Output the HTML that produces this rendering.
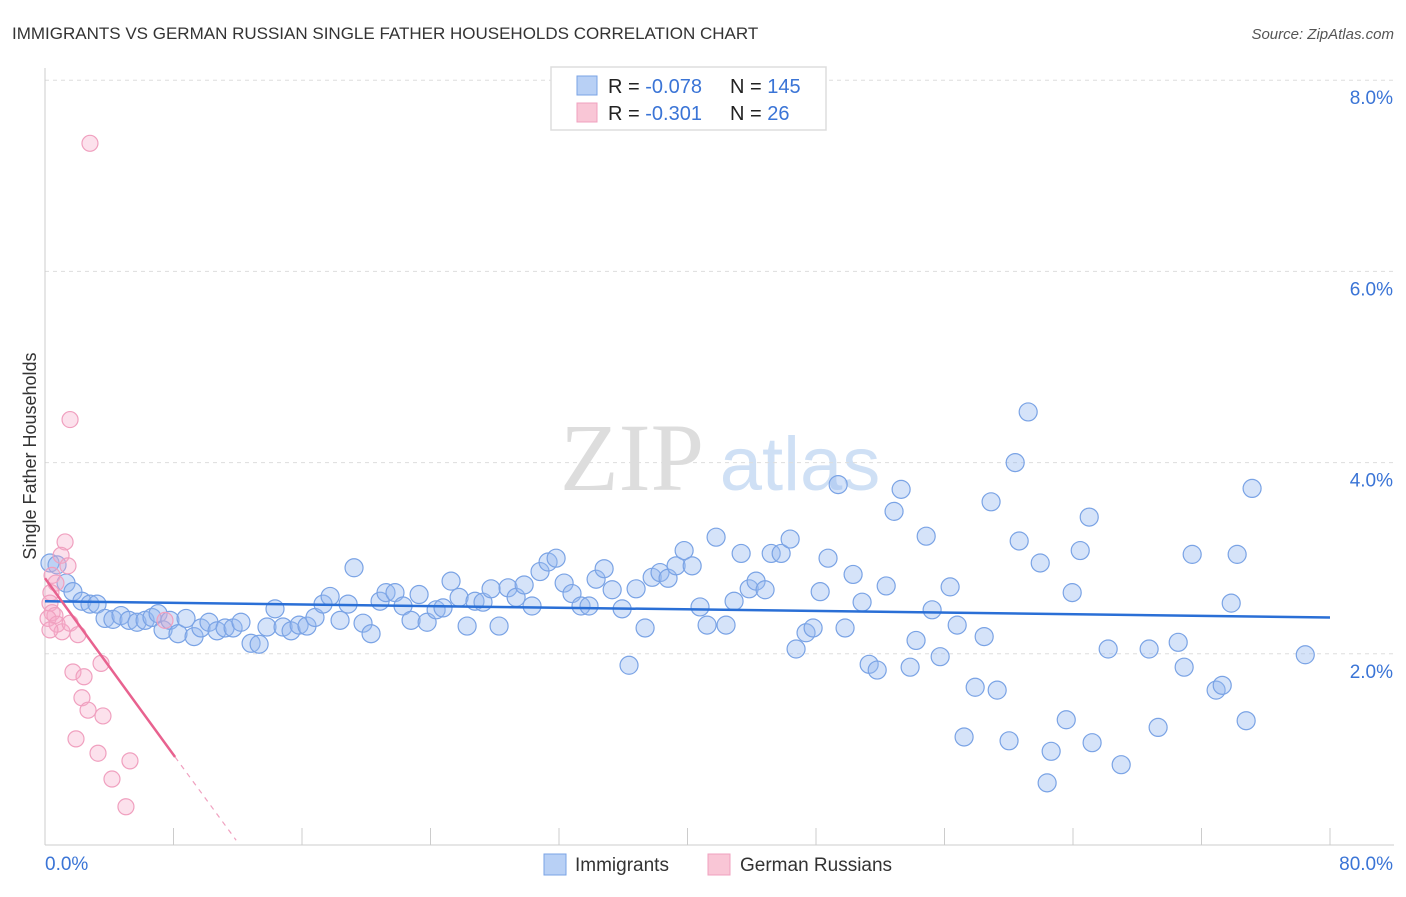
<!DOCTYPE html>
<html><head><meta charset="utf-8">
<style>
body{margin:0;background:#fff;font-family:"Liberation Sans",sans-serif;}
svg text{font-family:"Liberation Sans",sans-serif;}
</style></head>
<body>
<svg id="chart" width="1406" height="892" xmlns="http://www.w3.org/2000/svg">
<text x="12" y="39" font-size="17" fill="#333">IMMIGRANTS VS GERMAN RUSSIAN SINGLE FATHER HOUSEHOLDS CORRELATION CHART</text>
<text x="1394" y="39" font-size="15" fill="#555" font-style="italic" text-anchor="end">Source: ZipAtlas.com</text>
<text x="36" y="456" font-size="18" fill="#333" text-anchor="middle" transform="rotate(-90 36 456)">Single Father Households</text>
<g>
<text x="632" y="490" font-size="96" fill="#ddd" font-family="Liberation Serif" text-anchor="middle" style="font-family:'Liberation Serif',serif">ZIP</text>
<text x="800" y="490" font-size="76" fill="#cfe0f5" text-anchor="middle">atlas</text>
</g>
<g id="grid"></g>
<g id="axes"></g>
<g id="pts"></g>
<g id="trend"></g>
<g>
<rect x="551" y="67" width="275" height="63" fill="#fff" stroke="#ddd" stroke-width="1.5"/>
<rect x="577" y="76" width="20" height="19" fill="#b8d0f5" stroke="#7aa3e5"/>
<rect x="577" y="103" width="20" height="19" fill="#f9c6d6" stroke="#f0a0bf"/>
<text x="608" y="93" font-size="20" fill="#222">R = <tspan fill="#3a74d6">-0.078</tspan></text>
<text x="730" y="93" font-size="20" fill="#222">N = <tspan fill="#3a74d6">145</tspan></text>
<text x="608" y="120" font-size="20" fill="#222">R = <tspan fill="#3a74d6"> -0.301</tspan></text>
<text x="730" y="120" font-size="20" fill="#222">N = <tspan fill="#3a74d6">  26</tspan></text>
</g>
<g>
<rect x="544" y="854" width="22" height="21" fill="#b8d0f5" stroke="#7aa3e5"/>
<text x="575" y="871" font-size="19" fill="#333">Immigrants</text>
<rect x="708" y="854" width="22" height="21" fill="#f9c6d6" stroke="#f0a0bf"/>
<text x="740" y="871" font-size="19" fill="#333">German Russians</text>
</g>
</svg>
<script>
const yTicks=[2,4,6,8];
const yTickLabels=["2.0%","4.0%","6.0%","8.0%"];
const xTickLabels=["0.0%","80.0%"];
const blueX=[0.31,0.75,1.31,1.74,2.30,2.80,3.24,3.74,4.23,4.73,5.23,5.73,6.23,6.66,7.04,7.35,7.78,8.28,8.78,9.28,9.71,10.21,10.71,11.21,11.71,12.20,12.83,13.33,13.82,14.32,14.82,15.32,15.82,16.31,16.81,17.31,17.75,18.37,18.87,19.24,19.80,20.30,20.86,21.23,21.79,22.29,22.79,23.29,23.79,24.35,24.78,25.28,25.78,26.28,26.77,27.27,27.77,28.27,28.83,29.33,29.83,30.32,30.82,31.32,31.82,32.32,32.81,33.37,33.87,34.31,34.81,35.31,35.93,36.36,36.80,37.36,37.80,38.29,38.79,39.29,39.79,40.29,40.78,41.22,41.78,42.40,42.90,43.34,43.84,44.27,44.83,45.21,45.83,46.39,46.76,47.38,47.82,48.26,48.75,49.38,49.81,50.31,50.87,51.31,51.81,52.37,52.86,53.30,53.86,54.23,54.86,55.23,55.73,56.35,56.79,57.22,57.91,58.47,58.90,59.28,60.02,60.40,60.65,61.21,61.96,62.39,62.64,63.58,63.95,64.45,65.01,65.19,66.19,67.00,68.74,69.30,70.55,70.92,71.42,72.91,73.29,73.85,74.22,74.78,75.15,78.46];
const blueY=[2.95,2.93,2.74,2.65,2.55,2.52,2.52,2.37,2.36,2.40,2.35,2.33,2.35,2.38,2.42,2.25,2.35,2.21,2.37,2.18,2.27,2.33,2.24,2.27,2.27,2.33,2.11,2.10,2.28,2.47,2.28,2.24,2.30,2.29,2.38,2.52,2.60,2.35,2.52,2.90,2.32,2.21,2.55,2.64,2.64,2.50,2.35,2.62,2.33,2.46,2.48,2.76,2.59,2.29,2.55,2.54,2.68,2.29,2.69,2.59,2.72,2.50,2.86,2.96,3.00,2.74,2.63,2.50,2.50,2.78,2.89,2.67,2.47,1.88,2.68,2.27,2.80,2.85,2.79,2.92,3.08,2.92,2.49,2.30,3.22,2.30,2.55,3.05,2.68,2.76,2.67,3.05,3.05,3.20,2.05,2.22,2.27,2.65,3.00,3.77,2.27,2.83,2.54,1.89,1.83,2.71,3.49,3.72,1.86,2.14,3.23,2.46,1.97,2.70,2.30,1.13,1.65,2.18,3.59,1.62,1.09,4.00,3.18,4.53,2.95,0.65,0.98,1.31,2.64,3.08,3.43,1.07,2.05,0.84,2.05,1.23,2.12,1.86,3.04,1.62,1.67,2.53,3.04,1.30,3.73,1.99];
const pinkX=[2.80,1.56,1.25,1.00,1.43,0.44,0.68,0.37,0.31,0.44,0.62,0.19,0.75,1.06,1.56,2.05,0.31,3.49,1.74,2.43,2.30,2.68,3.61,1.93,3.30,5.29,4.17,5.04,7.47];
const pinkY=[7.34,4.45,3.17,3.03,2.92,2.82,2.74,2.64,2.53,2.43,2.40,2.37,2.31,2.23,2.32,2.20,2.25,1.90,1.81,1.76,1.54,1.41,1.35,1.11,0.96,0.88,0.69,0.40,2.35];
const blueTrend=[[0,2.55],[80,2.38]];
const pinkTrendSolid=[[0,2.79],[8.1,0.92]];
const pinkTrendDash=[[8.1,0.92],[11.9,0.05]];

const X=v=>45+v/80*1285;
const Y=v=>845-v*95.6;
const NS="http://www.w3.org/2000/svg";
function mk(tag,attrs,parent){const e=document.createElementNS(NS,tag);for(const k in attrs)e.setAttribute(k,attrs[k]);parent.appendChild(e);return e;}
const grid=document.getElementById('grid'),axes=document.getElementById('axes'),pts=document.getElementById('pts'),tr=document.getElementById('trend');
yTicks.forEach((t,i)=>{
  const l=mk('line',{x1:45,x2:1394,y1:Y(t),y2:Y(t),stroke:'#ddd','stroke-dasharray':'4,4'},grid);
  
  
  const tx=mk('text',{x:1393,y:Y(t)+24,'font-size':19,fill:'#3a74d6','text-anchor':'end'},axes);
  tx.textContent=yTickLabels[i];
  
  
});
const ax=mk('line',{x1:45,x2:1394,y1:845,y2:845,stroke:'#ccc'},axes);


const ay=mk('line',{x1:45,x2:45,y1:68,y2:845,stroke:'#ccc'},axes);


for(let i=0;i<=10;i++){
  const t=mk('line',{x1:X(i*8),x2:X(i*8),y1:828,y2:845,stroke:'#ccc'},axes);
  
  
}
const xl0=mk('text',{x:45,y:870,'font-size':19,fill:'#3a74d6'},axes);
xl0.textContent=xTickLabels[0];


const xl1=mk('text',{x:1393,y:870,'font-size':19,fill:'#3a74d6','text-anchor':'end'},axes);
xl1.textContent=xTickLabels[1];


blueX.forEach((v,i)=>{
  const c=mk('circle',{cx:X(v),cy:Y(blueY[i]),r:9,fill:'rgba(150,185,240,0.4)',stroke:'#7aa3e5','stroke-width':1.2},pts);
  
  
});
pinkX.forEach((v,i)=>{
  const c=mk('circle',{cx:X(v),cy:Y(pinkY[i]),r:8,fill:'rgba(245,170,200,0.35)',stroke:'#f0a0bf','stroke-width':1.2},pts);
  
  
});
const bt=mk('line',{x1:X(blueTrend[0][0]),y1:Y(blueTrend[0][1]),x2:X(blueTrend[1][0]),y2:Y(blueTrend[1][1]),stroke:'#2a6fd6','stroke-width':2.5},tr);


const pt=mk('line',{x1:X(pinkTrendSolid[0][0]),y1:Y(pinkTrendSolid[0][1]),x2:X(pinkTrendSolid[1][0]),y2:Y(pinkTrendSolid[1][1]),stroke:'#e8628f','stroke-width':2.5},tr);


const pd=mk('line',{x1:X(pinkTrendDash[0][0]),y1:Y(pinkTrendDash[0][1]),x2:X(pinkTrendDash[1][0]),y2:Y(pinkTrendDash[1][1]),stroke:'#f0a0bf','stroke-width':1.2,'stroke-dasharray':'5,5'},tr);


</script>
</body></html>
